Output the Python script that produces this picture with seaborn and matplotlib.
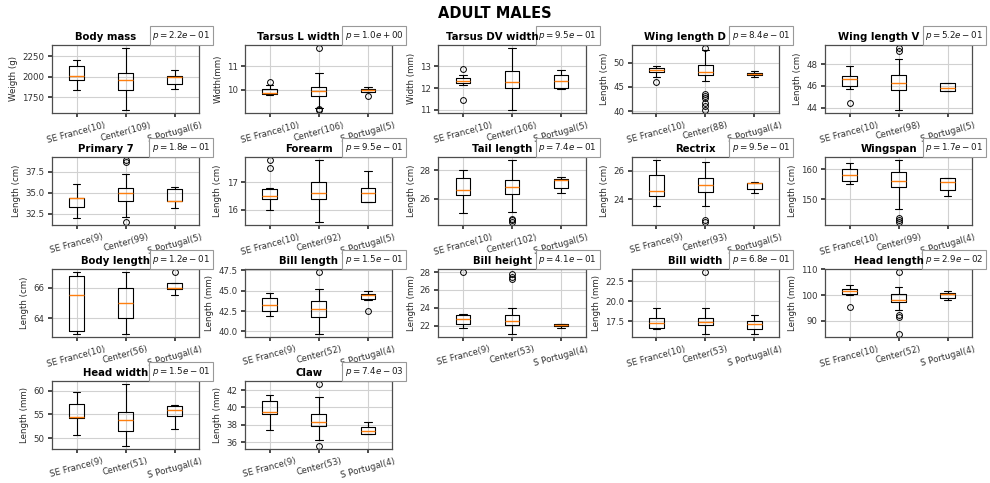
import matplotlib
matplotlib.use("Agg")
import matplotlib.pyplot as plt
from matplotlib.ticker import MaxNLocator
import seaborn as sns

# Box statistics (adult males, three regions)
regions = ["SE France", "Center", "S Portugal"]

titles = ["Body mass", "Tarsus L width", "Tarsus DV width", "Wing length D", "Wing length V",
          "Primary 7", "Forearm", "Tail length", "Rectrix", "Wingspan",
          "Body length", "Bill length", "Bill height", "Bill width", "Head length",
          "Head width", "Claw"]

ylabels = ["Weigth (g)", "Width(mm)", "Width (mm)", "Length (cm)", "Length (cm)",
           "Length (cm)", "Length (cm)", "Length (cm)", "Length (cm)", "Length (cm)",
           "Length (cm)", "Length (mm)", "Length (mm)", "Length (mm)", "Length (mm)",
           "Length (mm)", "Length (mm)"]

pvals = [2.2e-01, 1.0e+00, 9.5e-01, 8.4e-01, 5.2e-01,
         1.8e-01, 9.5e-01, 7.4e-01, 9.5e-01, 1.7e-01,
         1.2e-01, 1.5e-01, 4.1e-01, 6.8e-01, 2.9e-02,
         1.5e-01, 7.4e-03]

counts = [[10, 109, 6], [10, 106, 5], [10, 106, 5], [10, 88, 4], [10, 98, 5],
          [9, 99, 5], [10, 92, 5], [10, 102, 5], [9, 93, 5], [10, 99, 4],
          [10, 56, 4], [9, 52, 4], [9, 53, 4], [10, 53, 4], [10, 52, 4],
          [9, 51, 4], [9, 53, 4]]

whislo = [[1845, 1600, 1855], [9.78, 9.22, 9.9], [12.15, 11.0, 11.95], [47.0, 46.3, 47.1], [45.7, 43.8, 45.5],
          [32.0, 32.1, 33.1], [16.0, 15.57, 16.3], [24.95, 25.03, 26.4], [23.5, 23.5, 24.45], [155.2, 147.0, 151.0],
          [63.0, 63.0, 65.5], [41.85, 39.7, 43.9], [21.7, 21.06, 21.7], [16.5, 15.9, 15.9], [100.0, 94.2, 97.95],
          [50.7, 48.35, 52.0], [37.4, 36.3, 37.0]]

q1 = [[1958, 1835, 1907], [9.82, 9.75, 9.92], [12.22, 12.0, 12.0], [48.1, 47.5, 47.4], [46.0, 45.6, 45.5],
      [33.3, 34.0, 34.0], [16.39, 16.4, 16.3], [26.25, 26.3, 26.75], [24.2, 24.5, 24.7], [156.0, 154.0, 153.2],
      [63.2, 64.0, 65.9], [42.5, 41.8, 43.95], [22.2, 22.07, 21.9], [16.7, 17.0, 16.5], [100.4, 97.3, 98.97],
      [54.2, 51.5, 54.7], [39.2, 37.9, 37.0]]

med = [[2005, 1960, 1992], [9.86, 9.93, 9.98], [12.35, 12.27, 12.35], [48.5, 48.1, 47.7], [46.6, 46.3, 45.8],
       [34.3, 35.0, 34.0], [16.5, 16.6, 16.6], [26.6, 26.82, 27.3], [24.6, 25.0, 25.1], [158.0, 156.0, 155.9],
       [65.5, 65.0, 66.0], [43.2, 42.75, 44.5], [22.7, 22.5, 22.03], [17.29, 17.42, 17.08], [101.5, 97.95, 100.26],
       [54.44, 53.9, 55.85], [39.5, 38.34, 37.3]]

q3 = [[2135, 2048, 2003], [10.03, 10.12, 10.02], [12.45, 12.77, 12.6], [48.9, 49.5, 47.9], [46.9, 47.0, 46.3],
      [34.4, 35.5, 35.4], [16.75, 17.0, 16.8], [27.45, 27.3, 27.4], [25.7, 25.5, 25.15], [160.0, 158.9, 157.0],
      [66.75, 66.0, 66.3], [44.1, 43.77, 44.6], [23.17, 23.17, 22.2], [17.84, 17.9, 17.58], [102.4, 100.4, 100.9],
      [57.18, 55.6, 56.8], [40.7, 39.3, 37.78]]

whishi = [[2200, 2347, 2085], [10.2, 10.7, 10.1], [12.6, 13.85, 12.85], [49.4, 52.6, 48.2], [47.8, 48.5, 46.3],
          [36.0, 37.25, 35.65], [16.8, 17.8, 17.4], [28.0, 28.73, 27.5], [26.75, 26.6, 25.2], [162.0, 163.0, 157.0],
          [67.0, 67.0, 66.3], [44.75, 45.2, 45.0], [23.24, 24.0, 22.2], [19.1, 19.2, 18.3], [103.97, 103.2, 101.5],
          [59.7, 61.4, 56.9], [41.4, 41.2, 38.3]]

fliers = [[[], [], []],
          [[10.35], [11.77, 9.18, 9.15], [9.72]],
          [[12.9, 11.45], [], []],
          [[46.0], [53.0, 43.6, 43.2, 42.8, 41.8, 41.0, 40.3], []],
          [[44.4], [49.5, 49.2], []],
          [[], [38.9, 38.7, 31.5], []],
          [[17.8, 17.5], [], []],
          [[], [24.55, 24.45, 24.35], []],
          [[], [22.5, 22.4], []],
          [[], [144.0, 143.2, 142.6], []],
          [[], [], [67.0]],
          [[], [47.3], [42.5]],
          [[28.0], [27.8, 27.4, 27.2], []],
          [[], [23.67], []],
          [[95.4], [108.9, 92.1, 91.5, 84.97], []],
          [[], [], []],
          [[], [42.68, 35.6], []]]

# title offset (pixels) relative to the axes centre, as seen in the reference
title_shift_px = [-20, -20, -20, -20, -20, -20] + [-10] * 11

sns.set_theme(style="whitegrid", rc={
    "axes.edgecolor": "0.3",
    "axes.linewidth": 0.9,
    "grid.color": "0.82",
    "grid.linewidth": 0.8,
    "xtick.bottom": True,
    "ytick.left": True,
    "xtick.color": "0.2",
    "ytick.color": "0.2",
    "xtick.major.size": 3,
    "ytick.major.size": 3,
    "xtick.major.pad": 2.5,
    "ytick.major.pad": 2.5,
    "xtick.labelsize": 6.2,
    "ytick.labelsize": 6.2,
    "axes.labelsize": 6.2,
    "axes.labelpad": 3,
    "axes.labelcolor": "0.15",
})
plt.rcParams["font.family"] = ["DejaVu Sans"]

fig = plt.figure(figsize=(9.9, 4.83), dpi=100)
gs = fig.add_gridspec(4, 5, left=0.0525, right=0.982, top=0.907, bottom=0.0704,
                      wspace=0.313, hspace=0.647)
fig.suptitle("ADULT MALES", fontsize=10.5, fontweight="bold", color="black",
             y=0.973, va="center")

ax_w_px = 147
for i, name in enumerate(titles):
    ax = fig.add_subplot(gs[i // 5, i % 5])
    stats = []
    for j, reg in enumerate(regions):
        stats.append(dict(whislo=whislo[i][j], q1=q1[i][j], med=med[i][j], q3=q3[i][j],
                          whishi=whishi[i][j], fliers=fliers[i][j],
                          label=f"{reg}({counts[i][j]})"))
    ax.bxp(stats, widths=0.3, patch_artist=False,
           boxprops=dict(color="black", linewidth=0.8),
           whiskerprops=dict(color="black", linewidth=0.8),
           capprops=dict(color="black", linewidth=0.8),
           medianprops=dict(color="#ff7f0e", linewidth=1.0),
           flierprops=dict(marker="o", markersize=4.2, markerfacecolor="none",
                           markeredgecolor="black", markeredgewidth=0.7))
    ax.set_xlim(0.5, 3.5)
    ax.yaxis.set_major_locator(MaxNLocator(nbins=4, steps=[1, 2, 2.5, 5, 10]))
    ax.tick_params(axis="x", rotation=15)
    ax.set_ylabel(ylabels[i])
    ax.grid(True, axis="both")
    ax.set_title(name, fontsize=7.3, fontweight="bold", color="black", pad=3.5,
                 x=0.5 + title_shift_px[i] / ax_w_px)
    ax.text(1.077, 1.14, f"$p = {pvals[i]:.1e}$", transform=ax.transAxes,
            ha="right", va="center", fontsize=6.3, color="0.1",
            bbox=dict(boxstyle="square,pad=0.3", facecolor="white", edgecolor="0.6", linewidth=0.8))

fig.savefig("out.png", dpi=100)
